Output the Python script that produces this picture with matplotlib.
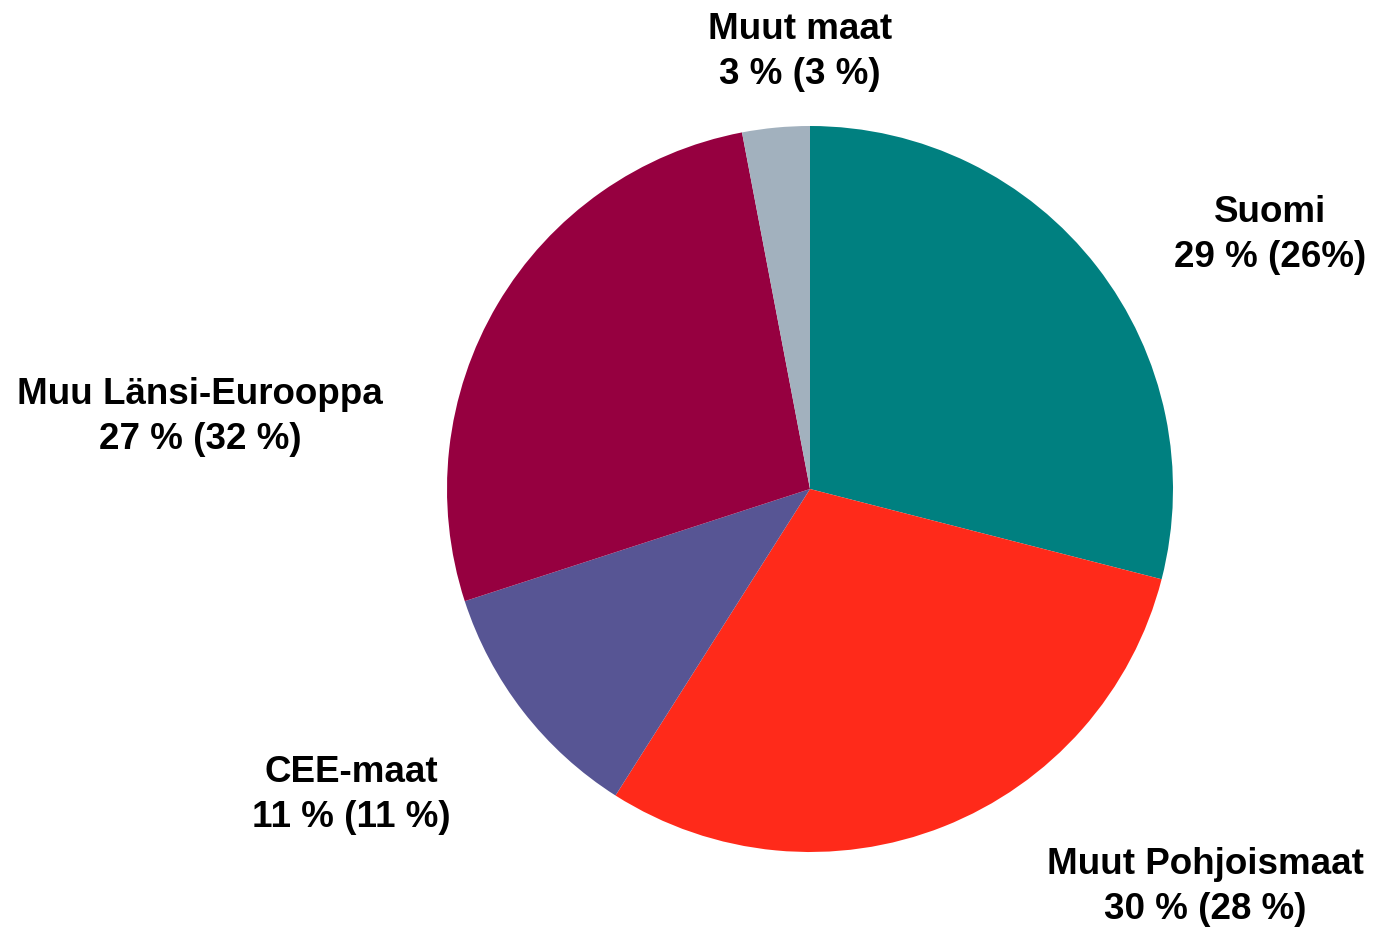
import matplotlib
matplotlib.use("Agg")
from matplotlib import pyplot as plt

# share by region, clockwise from the top
regions = ["Suomi", "Muut Pohjoismaat", "CEE-maat", "Muu Länsi-Eurooppa", "Muut maat"]
shares = [29, 30, 11, 27, 3]
share_labels = ["29 % (26%)", "30 % (28 %)", "11 % (11 %)", "27 % (32 %)", "3 % (3 %)"]
colors = ["#008080", "#FF2A1A", "#575594", "#960040", "#A2B1BE"]

# label centre positions in pixels (x, y from top)
label_pos = [(1270, 235), (1205, 887), (351, 795), (200, 417), (800, 52)]

W, H = 1376, 929
fig = plt.figure(figsize=(W / 100, H / 100), dpi=100)
ax = fig.add_axes([0, 0, 1, 1])

ax.pie(shares, colors=colors, startangle=90, counterclock=False,
       center=(810, H - 490), radius=363, frame=True)
ax.set_xlim(0, W)
ax.set_ylim(0, H)
ax.axis("off")

for name, lab, (x, y) in zip(regions, share_labels, label_pos):
    ax.text(x, H - y, name + "\n" + lab, ha="center", va="center",
            fontsize=26.5, fontweight="bold", family="Liberation Sans",
            linespacing=1.36)

fig.savefig("out.png", dpi=100)
